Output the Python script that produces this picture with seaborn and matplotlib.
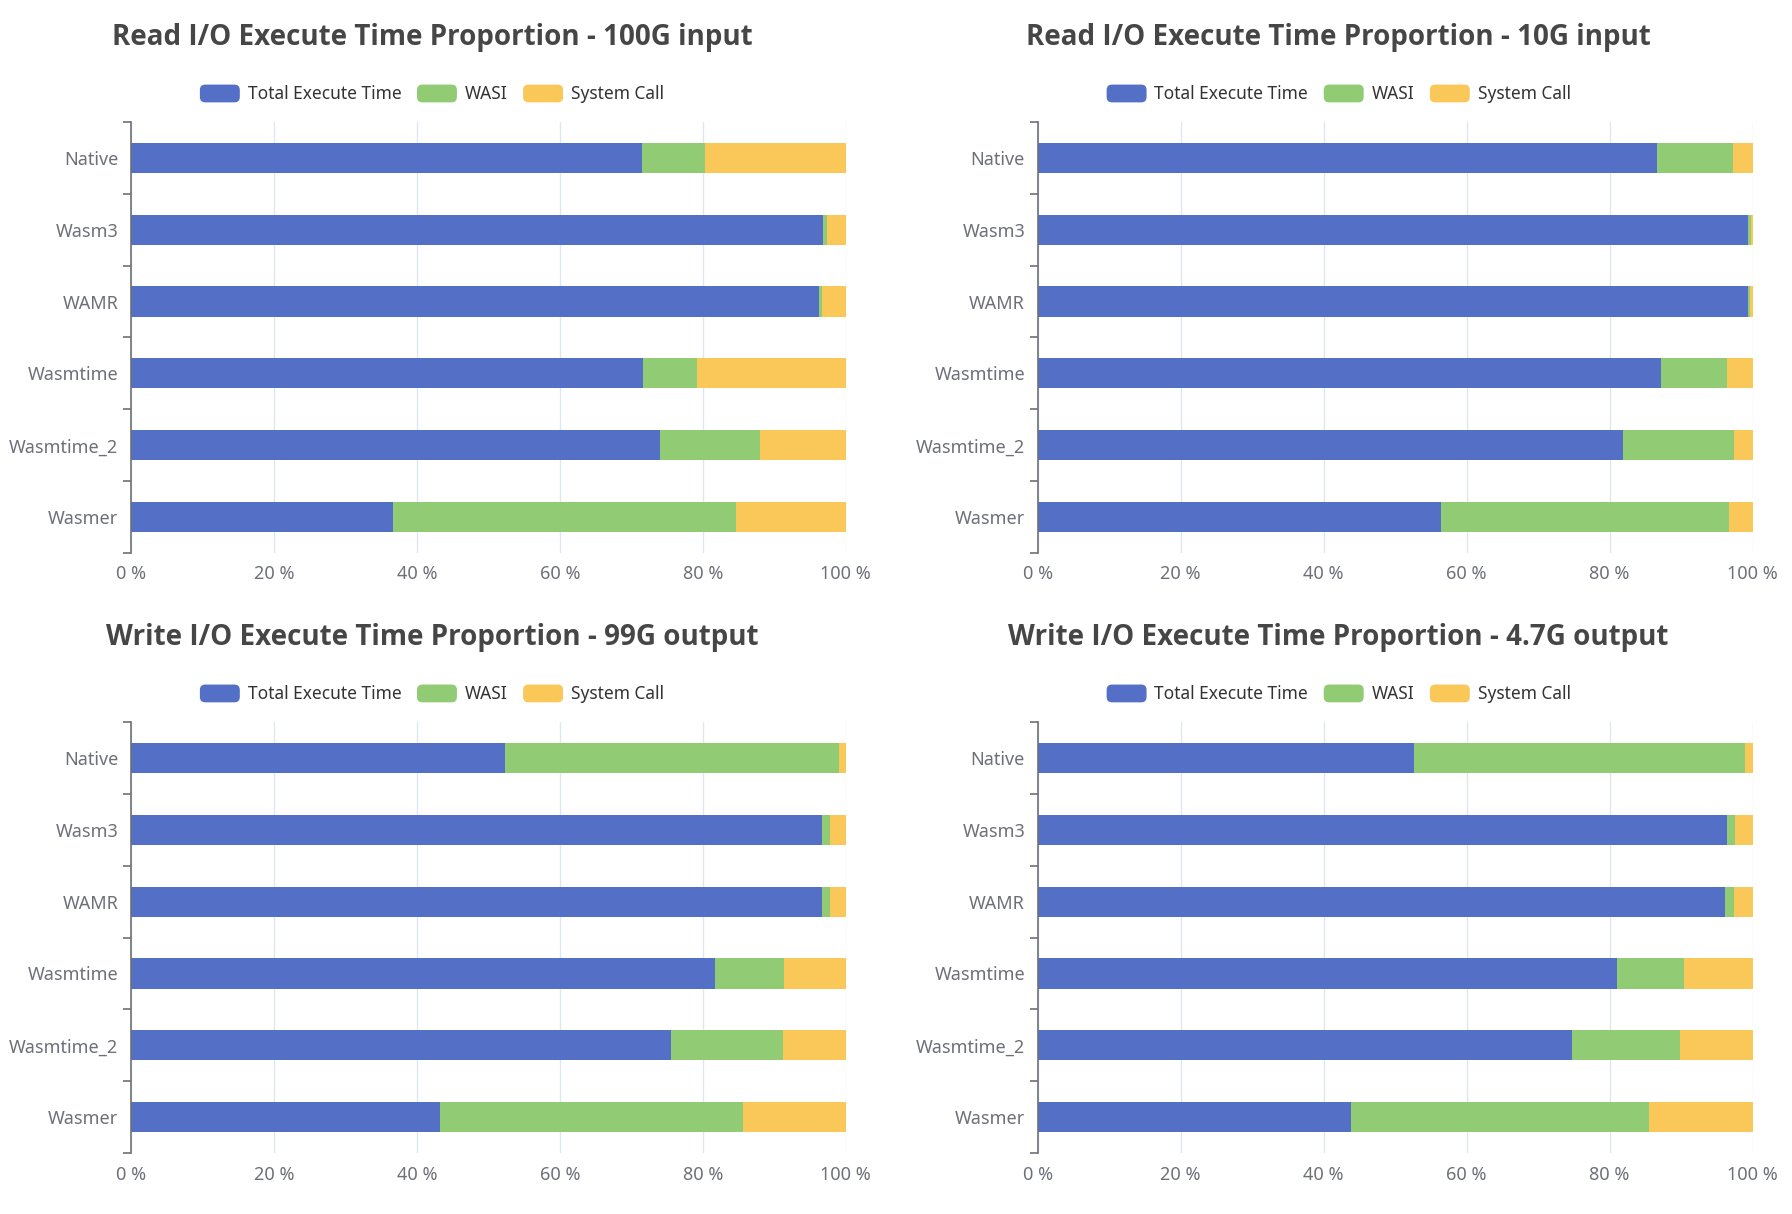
import matplotlib
matplotlib.use("Agg")
import matplotlib.pyplot as plt
from matplotlib.legend_handler import HandlerPatch
from matplotlib.patches import FancyBboxPatch, Patch
from matplotlib.ticker import FixedLocator
import pandas as pd
import seaborn as sns


OUT_PATH = "out.png"

BLUE = "#5470c6"
GREEN = "#91cc75"
YELLOW = "#fac858"
AXIS_COLOR = "#6e7079"
GRID_COLOR = "#e0e6f1"
TITLE_COLOR = "#464646"
LEGEND_TEXT = "#333333"

RUNTIMES = ["Native", "Wasm3", "WAMR", "Wasmtime", "Wasmtime_2", "Wasmer"]
SERIES = ["Total Execute Time", "WASI", "System Call"]
X_TICKS = [0, 20, 40, 60, 80, 100]
X_TICK_LABELS = ["0 %", "20 %", "40 %", "60 %", "80 %", "100 %"]

TITLES = [
    "Read I/O Execute Time Proportion - 100G input",
    "Read I/O Execute Time Proportion - 10G input",
    "Write I/O Execute Time Proportion - 99G output",
    "Write I/O Execute Time Proportion - 4.7G output",
]

# percent shares per runtime
read_100g_total = [71.5, 96.8, 96.3, 71.6, 74.0, 36.7]
read_100g_wasi = [8.8, 0.5, 0.3, 7.6, 14.0, 48.0]
read_100g_syscall = [19.7, 2.7, 3.4, 20.8, 12.0, 15.3]

read_10g_total = [86.7, 99.4, 99.3, 87.2, 81.9, 56.4]
read_10g_wasi = [10.6, 0.4, 0.3, 9.2, 15.5, 40.3]
read_10g_syscall = [2.7, 0.2, 0.4, 3.6, 2.6, 3.3]

write_99g_total = [52.4, 96.6, 96.6, 81.7, 75.5, 43.2]
write_99g_wasi = [46.6, 1.2, 1.2, 9.7, 15.7, 42.4]
write_99g_syscall = [1.0, 2.2, 2.2, 8.6, 8.8, 14.4]

write_4g7_total = [52.6, 96.4, 96.2, 81.1, 74.7, 43.8]
write_4g7_wasi = [46.4, 1.1, 1.2, 9.3, 15.1, 41.7]
write_4g7_syscall = [1.0, 2.5, 2.6, 9.6, 10.2, 14.5]

PANELS = [
    (read_100g_total, read_100g_wasi, read_100g_syscall),
    (read_10g_total, read_10g_wasi, read_10g_syscall),
    (write_99g_total, write_99g_wasi, write_99g_syscall),
    (write_4g7_total, write_4g7_wasi, write_4g7_syscall),
]

# figure-fraction layout
AX_LEFT = [0.073, 0.579]
AX_BOTTOM = [0.5445, 0.0502]
AX_W = 0.399
AX_H = 0.355
HEAD_CX = [0.241, 0.747]
TITLE_Y = [0.969, 0.4745]
LEGEND_Y = [0.9226, 0.4284]


class RoundRectHandler(HandlerPatch):
    def create_artists(self, legend, orig_handle, xdescent, ydescent,
                       width, height, fontsize, trans):
        patch = FancyBboxPatch(
            (-xdescent, -ydescent), width, height,
            boxstyle=f"round,pad=0,rounding_size={height * 0.3}",
            facecolor=orig_handle.get_facecolor(),
            edgecolor="none",
            transform=trans,
        )
        return [patch]


def build_frame(total, wasi, syscall):
    df = pd.DataFrame({
        "runtime": RUNTIMES,
        "total": total,
        "wasi": wasi,
        "syscall": syscall,
    })
    df["upto_total"] = df["total"]
    df["upto_wasi"] = df["total"] + df["wasi"]
    df["upto_syscall"] = df["upto_wasi"] + df["syscall"]
    return df


def draw_panel(ax, df):
    # stacked bars: draw the longest cumulative first, shorter on top
    for col, color in [("upto_syscall", YELLOW), ("upto_wasi", GREEN), ("upto_total", BLUE)]:
        sns.barplot(
            data=df, y="runtime", x=col, order=RUNTIMES, color=color,
            saturation=1, width=0.42, linewidth=0, orient="h", ax=ax,
        )

    ax.set_xlim(0, 100)
    ax.set_ylim(5.5, -0.5)
    ax.set_xlabel("")
    ax.set_ylabel("")

    ax.set_xticks(X_TICKS)
    ax.set_xticklabels(X_TICK_LABELS)
    ax.tick_params(axis="x", length=0, pad=9, labelsize=13, labelcolor=AXIS_COLOR)
    ax.xaxis.grid(True, color=GRID_COLOR, linewidth=1)
    ax.set_axisbelow(True)

    ax.tick_params(axis="y", which="major", left=False, length=0, pad=9,
                   labelsize=13, labelcolor=AXIS_COLOR)
    ax.yaxis.set_minor_locator(FixedLocator([i - 0.5 for i in range(len(RUNTIMES) + 1)]))
    ax.tick_params(axis="y", which="minor", left=True, length=6, width=1.2,
                   color=AXIS_COLOR, direction="out")

    for side in ["top", "right", "bottom"]:
        ax.spines[side].set_visible(False)
    ax.spines["left"].set_color(AXIS_COLOR)
    ax.spines["left"].set_linewidth(1.2)


def main():
    sns.set_theme(style="white")
    plt.rcParams["font.family"] = ["Noto Sans", "DejaVu Sans"]

    fig = plt.figure(figsize=(17.92, 12.14), dpi=100)
    handles = [Patch(facecolor=c) for c in (BLUE, GREEN, YELLOW)]

    for i, (title, values) in enumerate(zip(TITLES, PANELS)):
        row, col = divmod(i, 2)
        ax = fig.add_axes([AX_LEFT[col], AX_BOTTOM[row], AX_W, AX_H])
        draw_panel(ax, build_frame(*values))

        fig.text(HEAD_CX[col], TITLE_Y[row], title, ha="center", va="center",
                 fontsize=20, fontweight="bold", color=TITLE_COLOR,
                 family=["Open Sans", "DejaVu Sans"])
        fig.legend(
            handles, SERIES, loc="center", bbox_to_anchor=(HEAD_CX[col], LEGEND_Y[row]),
            ncol=3, frameon=False, fontsize=12.5, labelcolor=LEGEND_TEXT,
            handlelength=2.3, handleheight=1.2, handletextpad=0.45, columnspacing=0.9,
            handler_map={Patch: RoundRectHandler()},
        )

    fig.savefig(OUT_PATH, dpi=100)
    plt.close(fig)


if __name__ == "__main__":
    main()
